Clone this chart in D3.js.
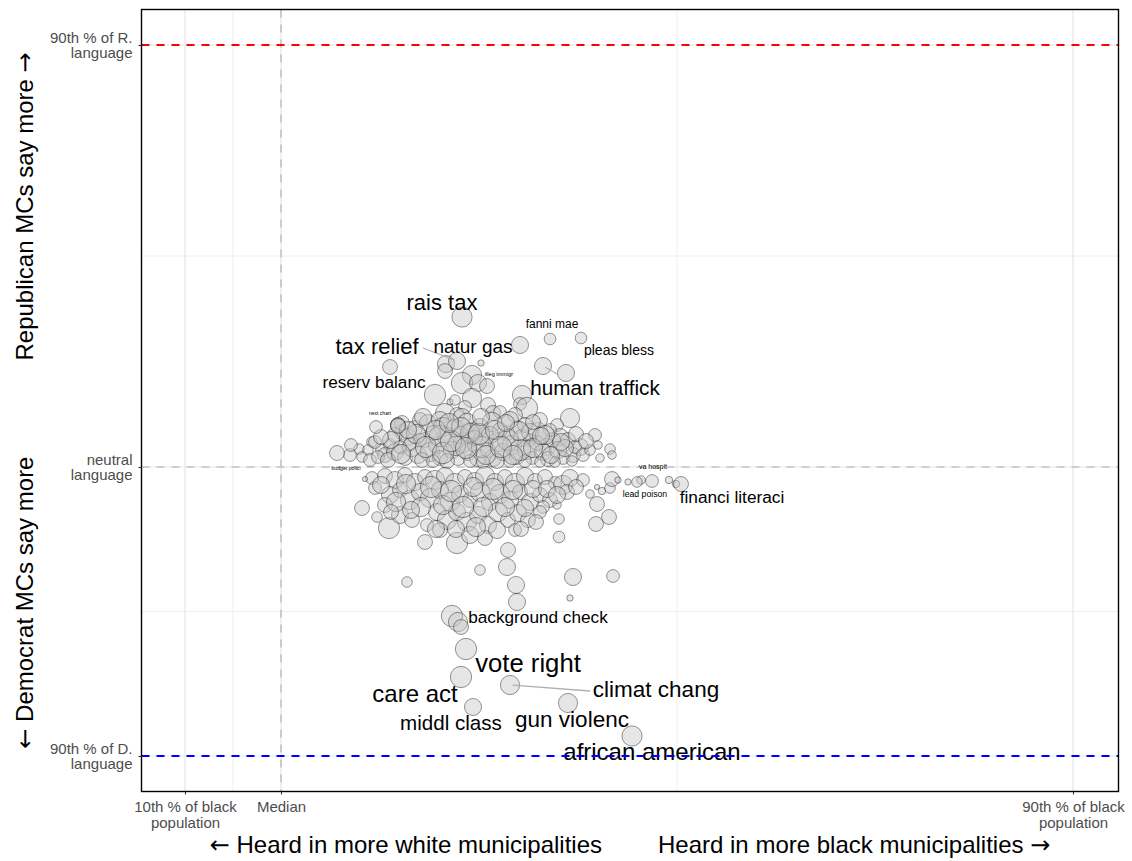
<!DOCTYPE html>
<meta charset="utf-8">
<style>

body {
  margin: 0;
  background: #fff;
}

svg {
  display: block;
  font-family: "Liberation Sans", Arial, Helvetica, sans-serif;
}

.grid-major { stroke: #e6e6e6; stroke-width: 1.2; }
.grid-minor { stroke: #eeeeee; stroke-width: 1; }
.ref-gray { stroke: #c4c4c4; stroke-width: 1.6; stroke-dasharray: 8,7; }
.ref-r { stroke: #ff0000; stroke-width: 1.8; stroke-dasharray: 8,7; }
.ref-d { stroke: #0000ff; stroke-width: 1.8; stroke-dasharray: 8,7; }

circle.term {
  fill: #c8c8c8;
  fill-opacity: .45;
  stroke: #000;
  stroke-opacity: .4;
  stroke-width: 1;
}

.seg { stroke: #b0b0b0; stroke-width: 1.3; }
.axis text { fill: #4d4d4d; font-size: 15px; }
.axis line { stroke: #333; stroke-width: 1.1; }
.axis .domain { display: none; }
.title { font-size: 24px; fill: #000; }
.arrow { font-family: "DejaVu Sans", sans-serif; }

</style>
<body>
<script src="https://cdn.jsdelivr.net/npm/d3@7"></script>
<script>

var width = 1132,
    height = 861;

// x: black-population score of the municipalities (0 = median)
var xBreaks = [-0.96, 0, 7.92],
    xTickLabels = [["10th % of black", "population"], ["Median"], ["90th % of black", "population"]];

// y: partisan language score (0 = neutral)
var yBreaks = [4.22, 0, -2.89],
    yTickLabels = [["90th % of R.", "language"], ["neutral", "language"], ["90th % of D.", "language"]];

// unlabeled terms: [x, y, n uses]
var terms = [
  [1.65,1.03,64],[2.85,0.94,64],[1.91,0.92,81],[1.64,0.96,49],[1.81,0.84,100],[1.97,0.84,64],
  [2.06,0.81,49],[1.54,0.72,100],[1.69,0.65,9],[1.91,0.69,81],[2.41,0.72,81],[2.39,0.63,36],
  [2.46,0.59,100],[2.07,0.62,49],[2.12,0.54,49],[2.89,0.49,81],[2.76,0.42,36],[2.57,0.35,81],
  [2.36,0.40,36],[3.14,0.32,36],[3.29,0.18,25],[2.79,0.30,64],[2.99,0.20,64],[2.92,0.12,49],
  [2.66,0.20,64],[2.49,0.27,36],[1.84,0.60,36],[1.74,0.67,25],[2.19,0.55,36],[2.34,0.52,49],
  [1.64,0.54,81],[1.76,0.52,49],[1.81,0.50,64],
  [0.78,0.18,25],[0.91,0.25,25],[0.87,0.17,25],[1.01,0.17,36],[0.94,0.25,36],[1.09,0.22,36],
  [1.17,0.42,49],[1.21,0.35,49],[1.14,0.32,49],[1.27,0.30,64],[1.34,0.39,49],[1.21,0.44,49],
  [1.39,0.47,49],[1.47,0.44,64],[1.59,0.47,64],[1.62,0.40,81],[1.91,0.35,81],
  [1.04,0.12,49],[1.14,0.15,64],[1.24,0.09,49],[1.31,0.20,81],[1.37,0.12,64],[1.44,0.27,49],
  [1.49,0.15,81],[1.56,0.22,64],[1.59,0.09,49],[1.66,0.30,81],[1.71,0.17,64],[1.77,0.09,49],
  [1.82,0.24,81],[1.87,0.15,64],[1.94,0.22,49],[1.97,0.09,64],[2.03,0.30,81],[2.07,0.17,49],
  [2.12,0.09,64],[2.17,0.25,81],[2.22,0.15,64],[2.26,0.34,49],[2.31,0.22,81],[2.36,0.10,49],
  [2.41,0.29,64],[2.46,0.17,81],[2.51,0.09,36],[2.56,0.24,49],[2.62,0.15,64],[2.67,0.08,49],
  [2.72,0.27,49],[2.77,0.17,64],[2.82,0.09,36],[2.87,0.27,49],[2.94,0.20,36],[3.02,0.12,36],
  [3.09,0.17,25],[3.17,0.22,16],
  [1.74,0.39,64],[1.86,0.44,81],[1.99,0.40,64],[2.11,0.45,81],[2.19,0.37,49],[2.29,0.47,64],
  [2.44,0.42,49],[1.52,0.34,49],[1.39,0.27,36],[1.29,0.23,36],[2.59,0.47,49],[2.69,0.37,36],
  [2.09,0.32,64],[1.94,0.29,49],[1.79,0.32,64],
  [0.69,0.12,36],[0.81,0.10,25],[0.89,0.07,36],[0.97,0.10,36],[1.07,0.07,49],[1.19,0.20,36],
  [1.41,0.07,49],[1.52,0.06,36],[1.66,0.06,49],[1.89,0.06,36],[2.02,0.05,36],[2.16,0.06,49],
  [2.29,0.06,36],[2.44,0.06,36],[2.59,0.05,25],[2.74,0.05,25],[2.91,0.06,25],[3.19,0.09,16],
  [1.75,0.21,81],[2.01,0.20,100],[2.27,0.27,100],[2.49,0.35,64],[1.59,0.31,100],[1.89,0.34,81],
  [2.39,0.17,100],[2.64,0.32,81],[2.84,0.19,64],[3.31,0.12,16],[1.17,0.42,49],
  [1.10,0.27,64],[1.20,0.13,81],[1.35,0.33,81],[1.45,0.20,100],[1.55,0.37,81],[1.62,0.14,100],
  [1.70,0.26,100],[1.80,0.40,81],[1.85,0.19,100],[1.98,0.33,100],[2.05,0.12,81],[2.14,0.37,81],
  [2.20,0.20,100],[2.32,0.12,81],[2.38,0.36,81],[2.52,0.19,81],[2.60,0.31,64],[2.70,0.12,64],
  [2.80,0.25,64],[1.00,0.30,49],[1.27,0.37,64],[1.42,0.50,64],[1.68,0.44,81],[2.00,0.50,64],
  [2.25,0.44,64],[2.52,0.45,49],[2.95,0.33,49],[3.05,0.26,49],[0.70,0.22,36],[0.95,0.40,36],
  [0.91,-0.11,36],[1.04,-0.09,49],[1.14,-0.13,64],[1.24,-0.08,49],[1.34,-0.15,64],[1.44,-0.10,49],
  [1.54,-0.13,81],[1.64,-0.09,64],[1.74,-0.16,81],[1.84,-0.10,49],[1.94,-0.14,64],[2.04,-0.09,81],
  [2.14,-0.15,64],[2.24,-0.10,49],[2.34,-0.16,81],[2.44,-0.09,64],[2.54,-0.14,49],[2.64,-0.10,49],
  [2.74,-0.16,36],[2.82,-0.18,81],[2.89,-0.11,64],[2.86,-0.25,49],[3.02,-0.13,36],[0.84,-0.12,6],
  [0.94,-0.21,36],[1.09,-0.28,64],[1.19,-0.23,49],[1.29,-0.33,81],[1.39,-0.25,64],[1.49,-0.31,81],
  [1.59,-0.23,64],[1.69,-0.35,81],[1.79,-0.27,64],[1.89,-0.33,49],[1.99,-0.25,81],[2.09,-0.35,64],
  [2.19,-0.27,81],[2.29,-0.33,64],[2.39,-0.25,49],[2.49,-0.35,64],[2.59,-0.28,49],[2.69,-0.33,49],
  [2.62,-0.40,36],[2.76,-0.38,16],[3.09,-0.27,16],[3.16,-0.20,6],[3.21,-0.24,12],[3.29,-0.21,25],
  [3.31,-0.12,49],[3.37,-0.13,9],[3.47,-0.15,9],[3.60,-0.13,16],[3.88,-0.13,12],[3.95,-0.17,12],
  [3.16,-0.37,49],[0.81,-0.41,49],[1.04,-0.38,49],
  [0.96,-0.50,25],[1.08,-0.61,100],[1.19,-0.48,64],[1.31,-0.53,49],[1.46,-0.58,36],[1.56,-0.45,64],
  [1.66,-0.53,81],[1.76,-0.45,64],[1.86,-0.55,81],[1.97,-0.48,64],[2.07,-0.58,64],[2.17,-0.45,81],
  [2.27,-0.53,49],[2.37,-0.46,64],[2.47,-0.53,49],[2.59,-0.45,36],[2.78,-0.52,25],[3.28,-0.50,49],
  [3.15,-0.57,49],[1.44,-0.75,49],[1.76,-0.76,100],[1.59,-0.63,49],[1.89,-0.68,64],[2.04,-0.71,49],
  [2.16,-0.63,64],[2.34,-0.63,36],[2.78,-0.70,30],
  [1.00,-0.18,64],[1.15,-0.35,81],[1.25,-0.17,81],[1.40,-0.40,81],[1.50,-0.20,100],[1.62,-0.38,81],
  [1.70,-0.24,100],[1.82,-0.40,100],[1.92,-0.20,81],[2.02,-0.40,81],[2.12,-0.22,100],[2.24,-0.40,81],
  [2.32,-0.23,81],[2.44,-0.41,64],[2.52,-0.22,64],[2.66,-0.22,64],[2.76,-0.28,64],[1.30,-0.43,64],
  [1.55,-0.62,64],[1.95,-0.60,81],[2.40,-0.62,49],[1.10,-0.45,49],[2.95,-0.20,49],[2.55,-0.55,49],
  [1.75,-0.62,64],
  [2.27,-0.83,49],[1.99,-1.03,25],[2.26,-1.00,64],[1.26,-1.15,25],[2.35,-1.18,64],[2.36,-1.35,64],
  [2.92,-1.10,64],[2.89,-1.31,9],[3.32,-1.09,36],[1.71,-1.49,100],[1.77,-1.55,81]
];

// labeled terms
var labeledTerms = ["rais tax", "tax relief", "natur gas", "fanni mae", "pleas bless",
  "reserv balanc", "human traffick", "illeg immigr", "next chart", "budget polici",
  "va hospit", "lead poison", "financi literaci", "background check", "vote right",
  "climat chang", "care act", "middl class", "gun violenc", "african american"];
var labeledX = [1.81, 1.76, 2.39, 2.69, 3.00, 1.09, 2.62, 2.00, 1.17, 0.56,
  3.71, 3.56, 4.00, 1.80, 1.85, 2.29, 1.80, 1.92, 2.87, 3.51];
var labeledY = [1.50, 1.06, 1.22, 1.28, 1.29, 1.00, 1.01, 1.04, 0.41, 0.14,
  -0.14, -0.15, -0.17, -1.60, -1.82, -2.18, -2.10, -2.40, -2.36, -2.69];
var labeledN = [90, 64, 64, 30, 30, 49, 64, 9, 49, 49,
  36, 25, 49, 49, 100, 81, 100, 64, 81, 90];

// label layout (repelled position, text size)
var labelPos = [[1.61,1.57],[0.96,1.13],[1.92,1.14],[2.71,1.39],[3.38,1.12],
  [0.93,0.79],[3.14,0.72],[2.18,0.91],[0.99,0.52],[0.65,-0.03],
  [3.72,-0.02],[3.64,-0.30],[4.51,-0.36],[2.57,-1.56],[2.47,-2.05],
  [3.75,-2.30],[1.34,-2.35],[1.70,-2.63],[2.91,-2.60],[3.71,-2.93]];
var labelSize = [22, 22, 19, 12, 14, 17.2, 20.7, 5.6, 5, 5.2,
  7, 8.7, 17.3, 17.2, 25.7, 22.5, 24, 20.6, 22.5, 24];
var segmentEnd = {"tax relief": [1.42, 1.19], "human traffick": [2.76, 0.93], "climat chang": [3.09, -2.24]};

var panel = {left: 141.5, right: 1118.5, top: 9.5, bottom: 791.5};

var x = d3.scaleLinear().domain([-1.395, 8.375]).range([panel.left, panel.right]),
    y = d3.scaleLinear().domain([-3.245, 4.575]).range([panel.bottom, panel.top]),
    r = d3.scaleSqrt().domain([0, 144]).range([0, 12.8]);

var svg = d3.select("body").append("svg")
    .attr("width", width)
    .attr("height", height);

var mid = function(a) { return d3.range(a.length - 1).map(function(i) { return (a[i] + a[i + 1]) / 2; }); };

// grid
var grid = svg.append("g");
grid.selectAll(".vminor").data(mid(xBreaks)).enter().append("line")
    .attr("class", "grid-minor")
    .attr("x1", x).attr("x2", x).attr("y1", panel.top).attr("y2", panel.bottom);
grid.selectAll(".hminor").data(mid(yBreaks)).enter().append("line")
    .attr("class", "grid-minor")
    .attr("y1", y).attr("y2", y).attr("x1", panel.left).attr("x2", panel.right);
grid.selectAll(".vmajor").data(xBreaks).enter().append("line")
    .attr("class", "grid-major")
    .attr("x1", x).attr("x2", x).attr("y1", panel.top).attr("y2", panel.bottom);
grid.selectAll(".hmajor").data(yBreaks).enter().append("line")
    .attr("class", "grid-major")
    .attr("y1", y).attr("y2", y).attr("x1", panel.left).attr("x2", panel.right);

// median and neutral reference lines
svg.append("line").attr("class", "ref-gray")
    .attr("x1", x(0)).attr("x2", x(0)).attr("y1", panel.top).attr("y2", panel.bottom);
svg.append("line").attr("class", "ref-gray")
    .attr("y1", y(0)).attr("y2", y(0)).attr("x1", panel.left).attr("x2", panel.right);

// all terms
var points = terms.map(function(d) { return {x: d[0], y: d[1], n: d[2]}; })
    .concat(labeledTerms.map(function(t, i) {
      return {term: t, x: labeledX[i], y: labeledY[i], n: labeledN[i],
        lx: labelPos[i][0], ly: labelPos[i][1], size: labelSize[i]};
    }));

svg.append("g").selectAll("circle")
    .data(points)
  .enter().append("circle")
    .attr("class", "term")
    .attr("cx", function(d) { return x(d.x); })
    .attr("cy", function(d) { return y(d.y); })
    .attr("r", function(d) { return r(d.n); });

var labeled = points.filter(function(d) { return d.term; });

// repel segments
svg.append("g").selectAll("line")
    .data(labeled.filter(function(d) { return segmentEnd[d.term]; }))
  .enter().append("line")
    .attr("class", "seg")
    .each(function(d) {
      var e = segmentEnd[d.term],
          x0 = x(d.x), y0 = y(d.y), x1 = x(e[0]), y1 = y(e[1]),
          len = Math.hypot(x1 - x0, y1 - y0), pad = 2.5;
      d3.select(this)
          .attr("x1", x0 + (x1 - x0) * pad / len).attr("y1", y0 + (y1 - y0) * pad / len)
          .attr("x2", x1).attr("y2", y1);
    });

svg.append("g").selectAll("text")
    .data(labeled)
  .enter().append("text")
    .attr("x", function(d) { return x(d.lx); })
    .attr("y", function(d) { return y(d.ly); })
    .attr("text-anchor", "middle")
    .style("font-size", function(d) { return d.size + "px"; })
    .text(function(d) { return d.term; });

// 90th percentile lines
svg.append("line").attr("class", "ref-r")
    .attr("y1", y(yBreaks[0])).attr("y2", y(yBreaks[0])).attr("x1", panel.left).attr("x2", panel.right);
svg.append("line").attr("class", "ref-d")
    .attr("y1", y(yBreaks[2])).attr("y2", y(yBreaks[2])).attr("x1", panel.left).attr("x2", panel.right);

svg.append("rect")
    .attr("x", panel.left).attr("y", panel.top)
    .attr("width", panel.right - panel.left).attr("height", panel.bottom - panel.top)
    .attr("fill", "none").attr("stroke", "#000").attr("stroke-width", 1.4);

// axes
var lh = 15.5;

var gx = svg.append("g")
    .attr("class", "axis")
    .attr("transform", "translate(0," + panel.bottom + ")")
    .call(d3.axisBottom(x).tickValues(xBreaks).tickSize(3).tickPadding(7).tickFormat(""));
gx.selectAll(".tick text").each(function(d, i) {
  var t = d3.select(this).attr("dy", null);
  t.selectAll("tspan").data(xTickLabels[i]).enter().append("tspan")
      .attr("x", 0)
      .attr("dy", function(s, j) { return j ? lh : 10.5; })
      .text(function(s) { return s; });
});

var gy = svg.append("g")
    .attr("class", "axis")
    .attr("transform", "translate(" + panel.left + ",0)")
    .call(d3.axisLeft(y).tickValues(yBreaks).tickSize(3).tickPadding(6).tickFormat(""));
gy.selectAll(".tick text").each(function(d, i) {
  var lines = yTickLabels[i],
      t = d3.select(this).attr("dy", null);
  t.selectAll("tspan").data(lines).enter().append("tspan")
      .attr("x", -9)
      .attr("dy", function(s, j) { return j ? lh : 4.8 - (lines.length - 1) * lh / 2; })
      .text(function(s) { return s; });
});

// axis titles
var xt = svg.append("text")
    .attr("class", "title")
    .attr("x", (panel.left + panel.right) / 2)
    .attr("y", 853)
    .attr("text-anchor", "middle");
xt.append("tspan").attr("class", "arrow").text("\u2190");
xt.append("tspan").text(" Heard in more white municipalities");
xt.append("tspan").attr("dx", 56).text("Heard in more black municipalities ");
xt.append("tspan").attr("class", "arrow").text("\u2192");

var yt = svg.append("text")
    .attr("class", "title")
    .attr("transform", "translate(33," + (panel.top + panel.bottom) / 2 + ")rotate(-90)")
    .attr("text-anchor", "middle");
yt.append("tspan").attr("class", "arrow").text("\u2190");
yt.append("tspan").text(" Democrat MCs say more");
yt.append("tspan").attr("dx", 96).text("Republican MCs say more ");
yt.append("tspan").attr("class", "arrow").text("\u2192");

</script>
